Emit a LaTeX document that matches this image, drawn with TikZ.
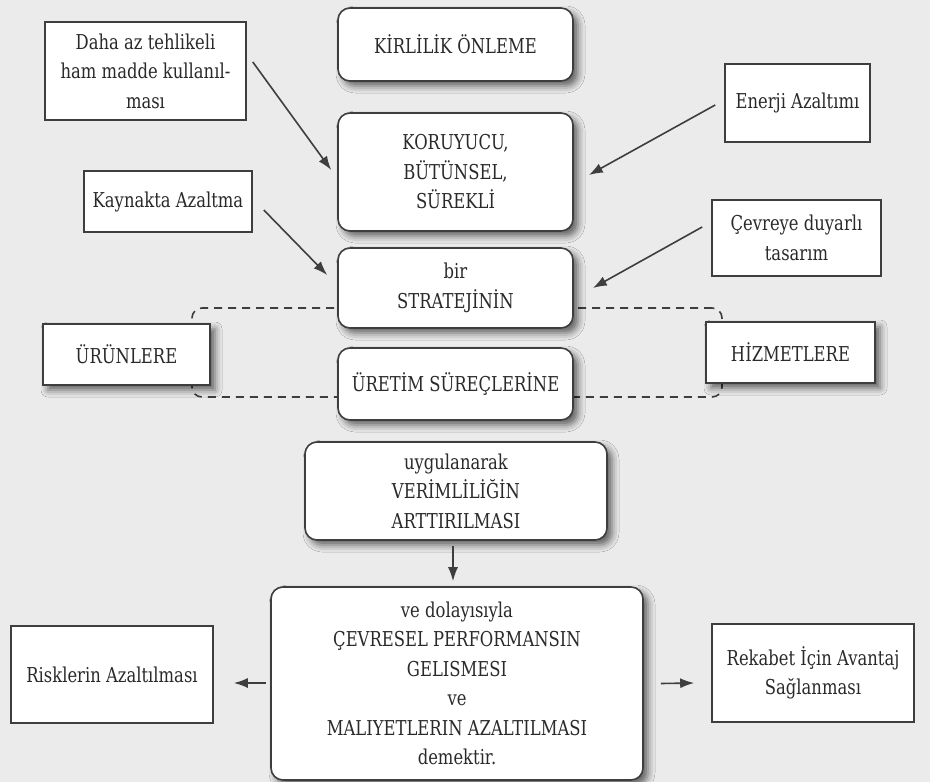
\documentclass[tikz,border=0pt]{standalone}
\usepackage{fontspec}
\setmainfont[FakeStretch=0.8]{DejaVu Serif}
\usetikzlibrary{shadows.blur,calc,arrows.meta}
\definecolor{bg}{HTML}{EBEBEB}
\definecolor{ln}{HTML}{3E3E3E}
\definecolor{tx}{HTML}{2A2A2A}
\newcommand{\mfs}{\fontsize{20.5}{29.5}\selectfont}
\tikzset{
  base/.style={draw=ln, line width=1.6pt, fill=white, align=center, text=tx, font=\mfs, inner sep=0pt},
  cbox/.style={base, rounded corners=12pt, blur shadow={shadow xshift=5pt, shadow yshift=-5pt, shadow blur radius=7pt, shadow opacity=60}},
  pbox/.style={base},
  sbox/.style={base, blur shadow={shadow xshift=5pt, shadow yshift=-5pt, shadow blur radius=7pt, shadow opacity=60}},
  arr/.style={draw=ln, line width=1.6pt, -{Latex[length=14pt,width=10pt]}},
  grpframe/.style={draw=ln, line width=1.6pt, dash pattern=on 8pt off 6pt, rounded corners=10pt, inner sep=0pt}
}
\begin{document}
\begin{tikzpicture}[x=1pt,y=-1pt]
\fill[bg] (0,0) rectangle (930,782);
\useasboundingbox (0,0) rectangle (930,782);

% dashed group frame
\node[grpframe, minimum width=530pt, minimum height=89pt] (grp) at (457,352.5) {};

% centre column
\node[cbox, minimum width=235pt, minimum height=73pt] (kirlilik) at (455.5,44.5) {KİRLİLİK ÖNLEME};
\node[cbox, minimum width=235pt, minimum height=118pt] (koruyucu) at (455.5,172) {KORUYUCU,\\BÜTÜNSEL,\\SÜREKLİ};
\node[cbox, minimum width=235pt, minimum height=80pt] (strateji) at (455.5,288) {bir\\STRATEJİNİN};
\node[cbox, minimum width=235pt, minimum height=72pt] (uretim) at (455.5,384) {ÜRETİM SÜREÇLERİNE};
\node[cbox, minimum width=302pt, minimum height=98pt] (uygul) at (456,491) {uygulanarak\\VERİMLİLİĞİN\\ARTTIRILMASI};
\node[cbox, minimum width=372pt, minimum height=193pt] (sonuc) at (457,683.5) {ve dolayısıyla\\ÇEVRESEL PERFORMANSIN\\GELISMESI\\ve\\MALIYETLERIN AZALTILMASI\\demektir.};

% side boxes
\node[pbox, minimum width=201pt, minimum height=98pt] (daha) at (145.5,71) {Daha az tehlikeli\\ham madde kullanıl-\\ması};
\node[pbox, minimum width=168pt, minimum height=61pt] (kaynak) at (168,201.5) {Kaynakta Azaltma};
\node[pbox, minimum width=145pt, minimum height=78pt] (enerji) at (797.5,103) {Enerji Azaltımı};
\node[pbox, minimum width=169pt, minimum height=76pt] (cevre) at (796.5,238) {Çevreye duyarlı\\tasarım};
\node[sbox, minimum width=167pt, minimum height=61pt] (urun) at (126.5,354.5) {ÜRÜNLERE};
\node[sbox, minimum width=169pt, minimum height=61pt] (hizmet) at (790.5,352.5) {HİZMETLERE};
\node[pbox, minimum width=202pt, minimum height=97pt] (risk) at (112,674.5) {Risklerin Azaltılması};
\node[pbox, minimum width=202pt, minimum height=98pt] (rekabet) at (813,673) {Rekabet İçin Avantaj\\Sağlanması};

% connectors
\draw[arr] ($(daha.east)+(6,-9)$) -- ($(koruyucu.west)+(-6,-2)$);
\draw[arr] ($(kaynak.east)+(11,8.5)$) -- ($(strateji.west)+(-10,-13)$);
\draw[arr] ($(enerji.west)+(-9,2)$) -- ($(koruyucu.east)+(15,3)$);
\draw[arr] ($(cevre.west)+(-9,-11)$) -- ($(strateji.east)+(19,0)$);
\draw[arr] ($(uygul.south)+(-3,5)$) -- ($(sonuc.north)+(-4,-5)$);
\draw[arr] ($(sonuc.west)+(-4,-0.5)$) -- ($(risk.east)+(20,8.5)$);
\draw[arr] ($(sonuc.east)+(17,0)$) -- ($(rekabet.west)+(-17,10)$);
\end{tikzpicture}
\end{document}
